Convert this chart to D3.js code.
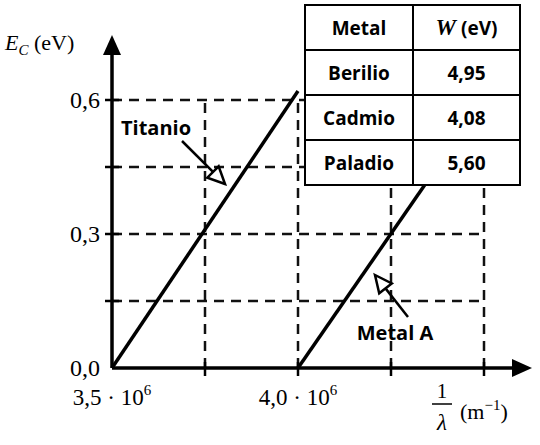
<!DOCTYPE html><html><head><meta charset="utf-8"><script src="https://d3js.org/d3.v7.min.js"></script>
<style>body{margin:0;background:#fff}</style></head><body><svg id="c" width="540" height="445"></svg>
<script>
const xTicks=[3.5,4.0];
const xTickLabels=["3,5 · 10","4,0 · 10"];
const yTicks=[0,0.3,0.6];
const yTickLabels=["0,0","0,3","0,6"];
const gridX=[3.75,4.0,4.25,4.5];
const gridY=[0.15,0.3,0.45,0.6];
const titanio=[[3.5,0],[4.0,0.62]];
const metalA=[[4.0,0],[4.395,0.475]];
const metals=["Berilio","Cadmio","Paladio"];
const workW=["4,95","4,08","5,60"];
const svg=d3.select("#c");
const x=d3.scaleLinear().domain([3.5,4.5]).range([112,484]);
const y=d3.scaleLinear().domain([0,0.6]).range([368,100]);
const serif="'Liberation Serif','DejaVu Serif',serif", sans="'Open Sans','Noto Sans',sans-serif";
gridX.forEach(v=>svg.append("line").attr("x1",x(v)).attr("x2",x(v)).attr("y1",y(0)).attr("y2",y(0.6)).attr("stroke","#111").attr("stroke-width",2.5).attr("stroke-dasharray","10,7"));
gridY.forEach(v=>svg.append("line").attr("x1",x(3.5)).attr("x2",x(4.5)).attr("y1",y(v)).attr("y2",y(v)).attr("stroke","#111").attr("stroke-width",2.5).attr("stroke-dasharray","10,7"));
const ax=svg.append("g").attr("stroke","#000").attr("stroke-width",3.5);
ax.append("line").attr("x1",112).attr("x2",515).attr("y1",368).attr("y2",368);
ax.append("line").attr("x1",112).attr("x2",112).attr("y1",368).attr("y2",52);
svg.append("path").attr("d","M532,368 L512,359 L512,377Z");
svg.append("path").attr("d","M112,35 L103,55 L121,55Z");
gridX.forEach(v=>svg.append("line").attr("x1",x(v)).attr("x2",x(v)).attr("y1",362).attr("y2",376).attr("stroke","#000").attr("stroke-width",2.5));
gridY.forEach(v=>svg.append("line").attr("x1",105).attr("x2",119).attr("y1",y(v)).attr("y2",y(v)).attr("stroke","#000").attr("stroke-width",2.5));
yTicks.forEach((v,i)=>svg.append("text").attr("x",100).attr("y",y(v)+8).attr("text-anchor","end").attr("font-family",serif).attr("font-size",24).text(yTickLabels[i]));
xTicks.forEach((v,i)=>{const t=svg.append("text").attr("x",x(v)).attr("y",405).attr("text-anchor","middle").attr("font-family",serif).attr("font-size",23).text(xTickLabels[i]);t.append("tspan").attr("dy",-10).attr("font-size",15).text("6");});
const yl=svg.append("text").attr("x",5).attr("y",50).attr("font-family",serif).attr("font-size",22);
yl.append("tspan").attr("font-style","italic").text("E");
yl.append("tspan").attr("font-style","italic").attr("font-size",15).attr("dy",5).text("C");
yl.append("tspan").attr("dy",-5).text(" (eV)");
svg.append("text").attr("x",442).attr("y",398).attr("text-anchor","middle").attr("font-family",serif).attr("font-size",21).text("1");
svg.append("line").attr("x1",432).attr("x2",452).attr("y1",404).attr("y2",404).attr("stroke","#000").attr("stroke-width",1.5);
svg.append("text").attr("x",442).attr("y",430).attr("text-anchor","middle").attr("font-family",serif).attr("font-style","italic").attr("font-size",23).text("λ");
const ml=svg.append("text").attr("x",460).attr("y",419).attr("font-family",serif).attr("font-size",22).text("(m");
ml.append("tspan").attr("dy",-9).attr("font-size",15).text("−1");
ml.append("tspan").attr("dy",9).text(")");
const line=d3.line().x(d=>x(d[0])).y(d=>y(d[1]));
[titanio,metalA].forEach(d=>svg.append("path").attr("d",line(d)).attr("fill","none").attr("stroke","#000").attr("stroke-width",3.5));
function arrow(x1,y1,x2,y2){const a=Math.atan2(y2-y1,x2-x1),L=17,w=8;
 const bx=x2-L*Math.cos(a),by=y2-L*Math.sin(a),px=-Math.sin(a)*w,py=Math.cos(a)*w;
 svg.append("line").attr("x1",x1).attr("y1",y1).attr("x2",bx).attr("y2",by).attr("stroke","#000").attr("stroke-width",2.5);
 svg.append("path").attr("d",`M${x2},${y2}L${bx+px},${by+py}L${bx-px},${by-py}Z`).attr("fill","#fff").attr("stroke","#000").attr("stroke-width",2.5);}
svg.append("text").attr("x",121).attr("y",135).attr("font-family",sans).attr("font-weight","bold").attr("font-size",20).text("Titanio");
arrow(182,141,225,184);
svg.append("text").attr("x",395).attr("y",340).attr("text-anchor","middle").attr("font-family",sans).attr("font-weight","bold").attr("font-size",20).text("Metal A");
arrow(408,317,375,275);
const tx=[305,413,520], ty=[5,50,95,140,185];
svg.append("rect").attr("x",tx[0]).attr("y",ty[0]).attr("width",tx[2]-tx[0]).attr("height",ty[4]-ty[0]).attr("fill","#fff").attr("stroke","#000").attr("stroke-width",2);
ty.slice(1,4).forEach(v=>svg.append("line").attr("x1",tx[0]).attr("x2",tx[2]).attr("y1",v).attr("y2",v).attr("stroke","#000").attr("stroke-width",2));
svg.append("line").attr("x1",tx[1]).attr("x2",tx[1]).attr("y1",ty[0]).attr("y2",ty[4]).attr("stroke","#000").attr("stroke-width",2);
const c1=(tx[0]+tx[1])/2,c2=(tx[1]+tx[2])/2;
svg.append("text").attr("x",c1).attr("y",35).attr("text-anchor","middle").attr("font-family",sans).attr("font-weight","bold").attr("font-size",19).text("Metal");
const h=svg.append("text").attr("x",c2).attr("y",35).attr("text-anchor","middle").attr("font-family",sans).attr("font-weight","bold").attr("font-size",19);
h.append("tspan").attr("font-family",serif).attr("font-style","italic").attr("font-size",23).text("W");
h.append("tspan").text(" (eV)");
metals.forEach((m,i)=>{const yy=(ty[i+1]+ty[i+2])/2+7;
 svg.append("text").attr("x",c1).attr("y",yy).attr("text-anchor","middle").attr("font-family",sans).attr("font-weight","bold").attr("font-size",19).text(m);
 svg.append("text").attr("x",c2).attr("y",yy).attr("text-anchor","middle").attr("font-family",sans).attr("font-weight","bold").attr("font-size",19).text(workW[i]);});
</script></body></html>
